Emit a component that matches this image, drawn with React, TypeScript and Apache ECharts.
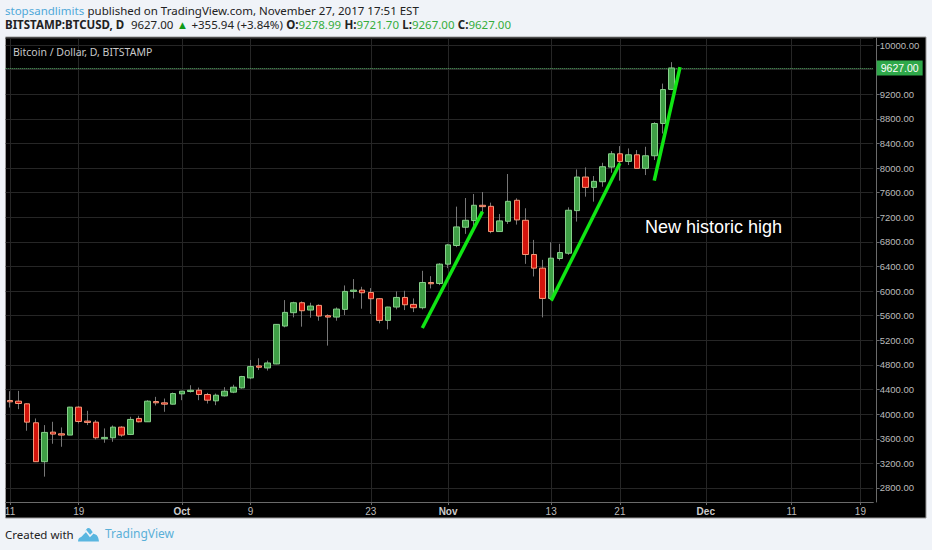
import React, { useEffect, useRef } from "react";
import * as echarts from "echarts";

const opens = [4222,4211,4168,3860,3227,3708,3681,3660,4114,3887,3870,3600,3616,3789,3670,3930,3876,4205,4184,4162,4330,4368,4389,4319,4216,4297,4357,4427,4589,4784,4751,4816,5432,5649,5811,5692,5768,5600,5578,5703,5995,6016,5978,5876,5524,5741,5897,5784,5730,6140,6124,6438,6741,7038,7146,7395,7378,6968,7135,7476,7151,6595,6373,5881,6530,6616,7308,7854,7686,7778,8016,8232,8108,8216,7995,8200,8724,9278.99];
const closes = [4200,4173,3870,3227,3703,3676,3660,4114,3881,3865,3616,3622,3789,3660,3914,3876,4211,4184,4162,4335,4373,4389,4319,4227,4308,4373,4438,4611,4773,4762,4832,5459,5654,5811,5681,5757,5595,5578,5708,5995,6016,5973,5876,5524,5741,5897,5778,5730,6140,6119,6438,6751,7043,7151,7395,7373,6968,7141,7459,7157,6595,6373,5881,6535,6627,7314,7854,7686,7784,8022,8232,8108,8216,7995,8200,8724,9276,9627];
const lows = [4108,4081,3730,3227,2984,3519,3470,3660,3849,3822,3589,3535,3551,3632,3660,3865,3876,4141,4038,4157,4227,4351,4227,4173,4146,4286,4341,4416,4568,4719,4708,4811,5411,5573,5422,5568,5519,5114,5519,5611,5881,5714,5627,5476,5378,5703,5692,5659,5703,6043,6097,6373,6714,6930,7022,7276,6941,6968,7092,7081,6443,6238,5573,5860,6497,6589,7130,7535,7454,7697,7924,7795,8049,7995,7886,8130,8562,9267];
const highs = [4373,4378,4173,3930,3822,3876,3784,4119,4130,4054,3903,3768,3816,3805,3957,3973,4227,4281,4254,4351,4378,4470,4432,4346,4335,4438,4478,4622,4881,4908,4870,5465,5854,5827,5832,5811,5784,5622,5735,6092,6195,6070,6049,5886,5746,5995,6005,5881,6330,6243,6454,6768,7373,7513,7578,7611,7438,7254,7903,7508,7346,6832,6508,6795,6768,7362,7978,8011,7870,8086,8276,8357,8319,8292,8346,8746,9373,9721.7];

const trendOne = [[48, 5401], [55, 7291]];
const trendTwo = [[63, 5845], [71, 8078]];
const trendThree = [[75, 7795], [78, 9640]];

const lastPrice = 9627;
const dayCount = 101;
const monthNames = ["Jan","Feb","Mar","Apr","May","Jun","Jul","Aug","Sep","Oct","Nov","Dec"];
const categories = Array.from({ length: dayCount }, (_, i) => {
  const d = new Date(Date.UTC(2017, 8, 11 + i));
  return d.getUTCDate() === 1 ? monthNames[d.getUTCMonth()] : String(d.getUTCDate());
});
const tickIndexes = [0, 8, 20, 28, 42, 51, 63, 71, 81, 91, 99];
const isTick = (i: number) => tickIndexes.includes(i);

const logoPath = "M0 14 C0 11 1.5 9.8 3.2 9.4 L8.2 2 C9.5 0.2 11.2 0.2 12.5 1.6 L16 6.4 C19 6.6 20.6 9.6 21 14 Z";
echarts.graphic.registerShape("tvlogo", echarts.graphic.extendPath(logoPath, {}) as any);

const uiFont = "Noto Sans";
const chartFont = "Liberation Sans";

export default function App() {
  const ref = useRef<HTMLDivElement>(null);
  useEffect(() => {
    const chart = echarts.init(ref.current!, null, { renderer: "svg" });
    const wicks = opens.map((o, i) => [o, closes[i], lows[i], highs[i]]);
    const bodies = opens.map((o, i) => [o, closes[i], Math.min(o, closes[i]), Math.max(o, closes[i])]);
    const trend = (data: number[][]) => ({
      type: "line", data, showSymbol: false, silent: true, z: 6,
      lineStyle: { color: "#10e614", width: 3.5 }, itemStyle: { color: "#10e614" },
    });
    chart.setOption({
      animation: false,
      backgroundColor: "#f0f3f8",
      grid: { left: 5.7, top: 38, width: 867.6, height: 464, containLabel: false },
      graphic: [
        { type: "rect", z: -1, shape: { x: 5.5, y: 37, width: 920.5, height: 481 }, style: { fill: "#000", stroke: "#9a9a9a", lineWidth: 1 } },
        {
          type: "text", x: 5, y: 4, z: 10,
          style: {
            text: "{a|stopsandlimits} {b|published on TradingView.com, November 27, 2017 17:51 EST}",
            rich: {
              a: { fill: "#4fa8d8", fontFamily: uiFont, fontSize: 11.5 },
              b: { fill: "#222", fontFamily: uiFont, fontSize: 11.5 },
            },
          },
        },
        {
          type: "text", x: 5, y: 18, z: 10,
          style: {
            text: "{k|BITSTAMP:BTCUSD, D}  {b|9627.00} {t|▲} {b|+355.94 (+3.84%)} {k|O:}{g|9278.99} {k|H:}{g|9721.70} {k|L:}{g|9267.00} {k|C:}{g|9627.00}",
            rich: {
              k: { fill: "#222", fontFamily: uiFont, fontSize: 11.5, fontWeight: "bold" },
              b: { fill: "#222", fontFamily: uiFont, fontSize: 11.5 },
              g: { fill: "#35ad3c", fontFamily: uiFont, fontSize: 11.5 },
              t: { fill: "#109a18", fontFamily: uiFont, fontSize: 11.5 },
            },
          },
        },
        { type: "text", x: 13, y: 46, z: 10, style: { text: "Bitcoin / Dollar, D, BITSTAMP", fill: "#c8c8c8", fontFamily: uiFont, fontSize: 10.5 } },
        { type: "text", x: 645, y: 218, z: 10, style: { text: "New historic high", fill: "#fff", fontFamily: chartFont, fontSize: 18 } },
        { type: "text", x: 5, y: 528, z: 10, style: { text: "Created with", fill: "#222", fontFamily: uiFont, fontSize: 11.5 } },
        { type: "tvlogo", x: 78, y: 527.5, z: 10, style: { fill: "#5ab6e0" } },
        { type: "polyline", z: 11, shape: { points: [[81, 536], [86, 531], [90, 536], [96, 530]] }, style: { fill: "none", stroke: "#f0f3f8", lineWidth: 1.6 } },
        { type: "text", x: 105, y: 527, z: 10, style: { text: "TradingView", fill: "#5ab0d8", fontFamily: uiFont, fontSize: 12 } },
      ],
      xAxis: {
        type: "category", data: categories, boundaryGap: true,
        axisLine: { lineStyle: { color: "#6a6a6a" } },
        axisTick: { show: true, alignWithLabel: true, interval: (i: number) => isTick(i), length: 3, lineStyle: { color: "#6a6a6a" } },
        axisLabel: {
          interval: (i: number) => isTick(i), margin: 4, color: "#bbb", fontFamily: chartFont, fontSize: 10,
          formatter: (v: string) => (/^[A-Z]/.test(v) ? `{m|${v}}` : v),
          rich: { m: { color: "#ccc", fontFamily: chartFont, fontSize: 10, fontWeight: "bold" } },
        },
        splitLine: { show: true, alignWithLabel: true, interval: (i: number) => isTick(i), lineStyle: { color: "#262626" } },
      } as any,
      yAxis: {
        type: "value", position: "right", offset: 3.4, min: 2572, max: 10114, scale: true,
        minInterval: 400, maxInterval: 400,
        axisLine: { show: true, lineStyle: { color: "#6a6a6a" } },
        axisTick: { show: true, length: 3, lineStyle: { color: "#6a6a6a" } },
        axisLabel: {
          margin: 3, color: "#bbb", fontFamily: chartFont, fontSize: 9.5, showMinLabel: false, showMaxLabel: false,
          formatter: (v: number) => (v % 400 === 0 && v !== 9600 ? v.toFixed(2) : ""),
        },
        splitLine: { show: true, lineStyle: { color: "#262626" } },
      },
      series: [
        {
          type: "candlestick", data: wicks, barWidth: 1, silent: true, z: 3,
          itemStyle: { color: "#777", color0: "#777", borderColor: "#777", borderColor0: "#777", borderWidth: 1 },
        },
        {
          type: "candlestick", data: bodies, barWidth: 6, silent: true, z: 4,
          itemStyle: { color: "#3f9f46", color0: "#d3140c", borderColor: "#86d08a", borderColor0: "#f59a7a", borderWidth: 1 },
          markLine: {
            silent: true, symbol: "none", animation: false,
            lineStyle: { type: "dotted", color: "#5fb36f", width: 1 },
            label: {
              show: true, position: "end", distance: 3.4, formatter: () => lastPrice.toFixed(2),
              color: "#fff", backgroundColor: "#2fa84a", padding: [2, 4, 2, 4], fontFamily: chartFont, fontSize: 10.5,
            },
            data: [{ yAxis: lastPrice }],
          },
        },
        trend(trendOne), trend(trendTwo), trend(trendThree),
      ],
    } as any);
    return () => chart.dispose();
  }, []);
  return <div ref={ref} style={{ position: "absolute", left: 0, top: 0, width: 932, height: 550 }} />;
}
